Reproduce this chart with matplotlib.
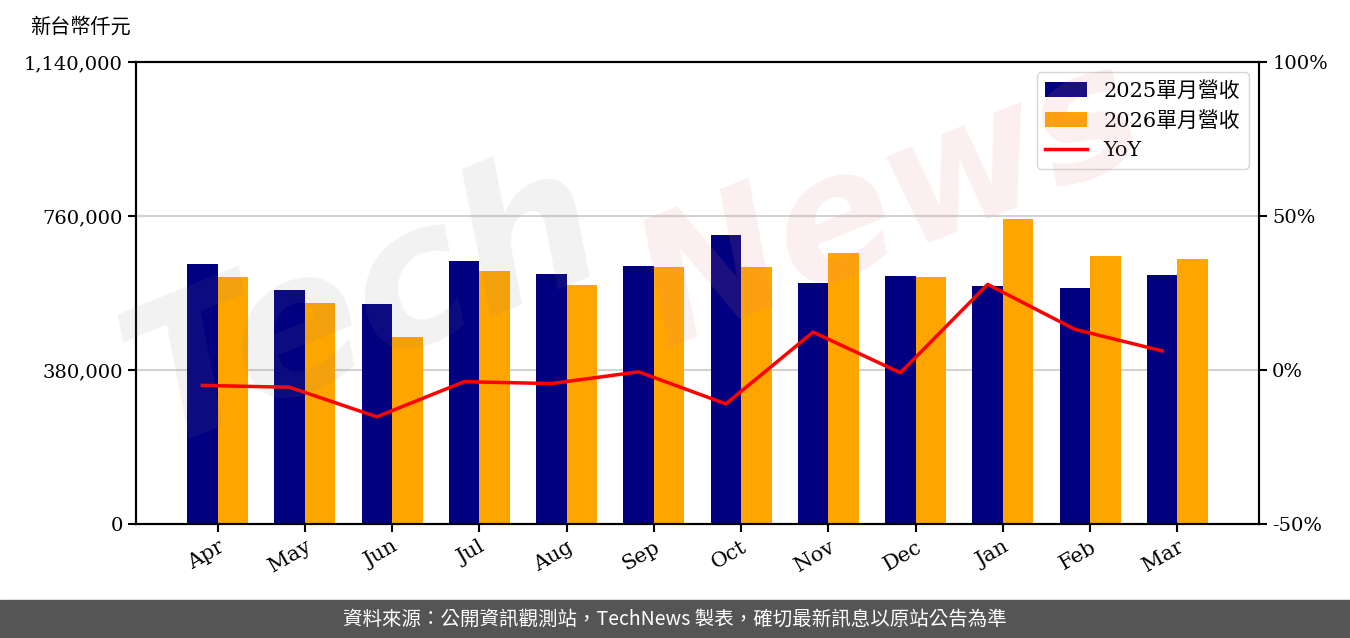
import numpy as np
import matplotlib.pyplot as plt

months = ["Apr", "May", "Jun", "Jul", "Aug", "Sep", "Oct", "Nov", "Dec", "Jan", "Feb", "Mar"]
rev_2025 = [641500, 577400, 542800, 649000, 616900, 636600, 713100, 594700, 611900, 587300, 582300, 614400]
rev_2026 = [609500, 545300, 461400, 624300, 589700, 634100, 634100, 669500, 609500, 752600, 661300, 653900]
yoy = [-5.0, -5.6, -15.2, -3.8, -4.4, -0.6, -11.0, 12.3, -0.9, 27.8, 13.2, 6.2]

serif = ["DejaVu Serif", "Noto Sans CJK TC"]
cjk = ["Noto Sans CJK TC", "DejaVu Sans"]
plt.rcParams["font.family"] = serif

fig = plt.figure(figsize=(13.5, 6.38), dpi=100)
ax = fig.add_axes([136 / 1350, 1 - 524 / 638, (1259 - 136) / 1350, (524 - 62) / 638])
ax2 = ax.twinx()

x = np.arange(len(months))
w = 0.35
b1 = ax.bar(x - w / 2, rev_2025, w, color="#000080", label="2025單月營收", zorder=2)
b2 = ax.bar(x + w / 2, rev_2026, w, color="#FFA500", label="2026單月營收", zorder=2)
ln, = ax2.plot(x - w / 2, yoy, color="red", lw=2.5, label="YoY")

ax.set_ylim(0, 1140000)
ax.set_yticks([0, 380000, 760000, 1140000])
ax.set_yticklabels(["0", "380,000", "760,000", "1,140,000"])
ax.yaxis.grid(True, color="#d3d3d3", lw=1.5, zorder=0)
ax.set_axisbelow(True)
ax2.set_ylim(-50, 100)
ax2.set_yticks([-50, 0, 50, 100])
ax2.set_yticklabels(["-50%", "0%", "50%", "100%"])

ax.set_xticks(x)
ax.set_xticklabels(months, rotation=30, ha="right", rotation_mode="anchor")

for a in (ax, ax2):
    a.tick_params(labelsize=14, length=6, width=1.5)
    for s in a.spines.values():
        s.set_linewidth(1.5)
ax.tick_params(axis="x", labelsize=15)

ax.legend([b1, b2, ln], ["2025單月營收", "2026單月營收", "YoY"], loc="upper right",
          prop={"family": serif, "size": 15}, borderaxespad=0.5)

fig.text(30 / 1350, 1 - 27 / 638, "新台幣仟元", fontsize=14.5, family=cjk, va="center")

# watermark
fig.text(0.27, 0.52, "Tech", fontsize=140, color="gray", alpha=0.1, rotation=22,
         ha="center", va="center", style="italic", weight="bold", family="DejaVu Sans", zorder=10)
fig.text(0.66, 0.68, "News", fontsize=125, color="#e08080", alpha=0.13, rotation=22,
         ha="center", va="center", style="italic", weight="bold", family="DejaVu Sans", zorder=10)

# footer
fig.patches.append(plt.Rectangle((0, 0), 1, 38 / 638, transform=fig.transFigure,
                                 color="#555555", zorder=0))
fig.text(0.5, 19 / 638, "資料來源：公開資訊觀測站，TechNews 製表，確切最新訊息以原站公告為準",
         color="white", fontsize=14, family=cjk, ha="center", va="center")

fig.savefig("out.png", dpi=100)
